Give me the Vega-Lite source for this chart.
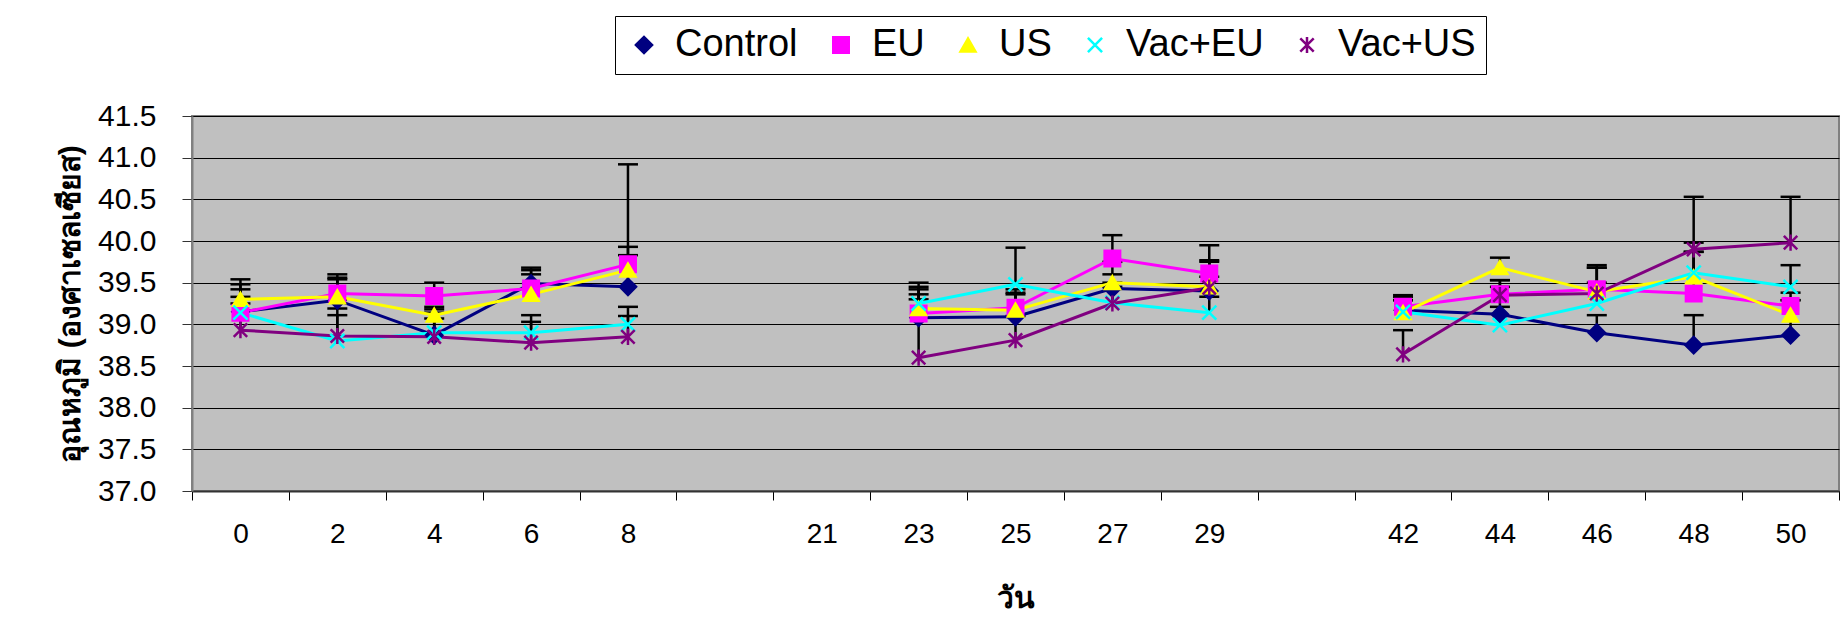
{
  "$schema": "https://vega.github.io/schema/vega-lite/v6.json",
  "autosize": {"type": "none"},
  "padding": {"left": 192, "top": 116, "right": 2, "bottom": 149},
  "width": 1647,
  "height": 375,
  "background": "white",
  "config": {
    "view": {"fill": "#C0C0C0", "stroke": "#808080", "strokeWidth": 2},
    "font": "Liberation Sans"
  },
  "data": {
    "values": [
      {"day": "0", "series": "Control", "mean": 39.15, "upper": 39.42, "phase": 1},
      {"day": "0", "series": "EU", "mean": 39.14, "upper": 39.48, "phase": 1},
      {"day": "0", "series": "US", "mean": 39.30, "upper": 39.54, "phase": 1},
      {"day": "0", "series": "Vac+EU", "mean": 39.14, "upper": 39.33, "phase": 1},
      {"day": "0", "series": "Vac+US", "mean": 38.93, "upper": 39.25, "phase": 1},
      {"day": "2", "series": "Control", "mean": 39.29, "upper": 39.54, "phase": 1},
      {"day": "2", "series": "EU", "mean": 39.37, "upper": 39.60, "phase": 1},
      {"day": "2", "series": "US", "mean": 39.33, "upper": 39.56, "phase": 1},
      {"day": "2", "series": "Vac+EU", "mean": 38.80, "upper": 39.11, "phase": 1},
      {"day": "2", "series": "Vac+US", "mean": 38.86, "upper": 39.19, "phase": 1},
      {"day": "4", "series": "Control", "mean": 38.87, "upper": 39.21, "phase": 1},
      {"day": "4", "series": "EU", "mean": 39.34, "upper": 39.50, "phase": 1},
      {"day": "4", "series": "US", "mean": 39.11, "upper": 39.18, "phase": 1},
      {"day": "4", "series": "Vac+EU", "mean": 38.90, "upper": 39.14, "phase": 1},
      {"day": "4", "series": "Vac+US", "mean": 38.85, "upper": 39.07, "phase": 1},
      {"day": "6", "series": "Control", "mean": 39.49, "upper": 39.68, "phase": 1},
      {"day": "6", "series": "EU", "mean": 39.43, "upper": 39.65, "phase": 1},
      {"day": "6", "series": "US", "mean": 39.36, "upper": 39.60, "phase": 1},
      {"day": "6", "series": "Vac+EU", "mean": 38.90, "upper": 39.11, "phase": 1},
      {"day": "6", "series": "Vac+US", "mean": 38.78, "upper": 39.03, "phase": 1},
      {"day": "8", "series": "Control", "mean": 39.45, "upper": 39.83, "phase": 1},
      {"day": "8", "series": "EU", "mean": 39.72, "upper": 40.92, "phase": 1},
      {"day": "8", "series": "US", "mean": 39.65, "upper": 39.93, "phase": 1},
      {"day": "8", "series": "Vac+EU", "mean": 39.00, "upper": 39.21, "phase": 1},
      {"day": "8", "series": "Vac+US", "mean": 38.85, "upper": 39.10, "phase": 1},
      {"day": "23", "series": "Control", "mean": 39.08, "upper": 39.36, "phase": 2},
      {"day": "23", "series": "EU", "mean": 39.13, "upper": 39.42, "phase": 2},
      {"day": "23", "series": "US", "mean": 39.19, "upper": 39.50, "phase": 2},
      {"day": "23", "series": "Vac+EU", "mean": 39.25, "upper": 39.45, "phase": 2},
      {"day": "23", "series": "Vac+US", "mean": 38.60, "upper": 39.30, "phase": 2},
      {"day": "25", "series": "Control", "mean": 39.09, "upper": 39.36, "phase": 2},
      {"day": "25", "series": "EU", "mean": 39.20, "upper": 39.42, "phase": 2},
      {"day": "25", "series": "US", "mean": 39.17, "upper": 39.38, "phase": 2},
      {"day": "25", "series": "Vac+EU", "mean": 39.48, "upper": 39.92, "phase": 2},
      {"day": "25", "series": "Vac+US", "mean": 38.81, "upper": 39.10, "phase": 2},
      {"day": "27", "series": "Control", "mean": 39.43, "upper": 39.60, "phase": 2},
      {"day": "27", "series": "EU", "mean": 39.79, "upper": 40.07, "phase": 2},
      {"day": "27", "series": "US", "mean": 39.50, "upper": 39.75, "phase": 2},
      {"day": "27", "series": "Vac+EU", "mean": 39.26, "upper": 39.50, "phase": 2},
      {"day": "27", "series": "Vac+US", "mean": 39.25, "upper": 39.45, "phase": 2},
      {"day": "29", "series": "Control", "mean": 39.40, "upper": 39.57, "phase": 2},
      {"day": "29", "series": "EU", "mean": 39.61, "upper": 39.95, "phase": 2},
      {"day": "29", "series": "US", "mean": 39.45, "upper": 39.77, "phase": 2},
      {"day": "29", "series": "Vac+EU", "mean": 39.14, "upper": 39.33, "phase": 2},
      {"day": "29", "series": "Vac+US", "mean": 39.44, "upper": 39.75, "phase": 2},
      {"day": "42", "series": "Control", "mean": 39.17, "upper": 39.33, "phase": 3},
      {"day": "42", "series": "EU", "mean": 39.21, "upper": 39.35, "phase": 3},
      {"day": "42", "series": "US", "mean": 39.14, "upper": 39.29, "phase": 3},
      {"day": "42", "series": "Vac+EU", "mean": 39.15, "upper": 39.29, "phase": 3},
      {"day": "42", "series": "Vac+US", "mean": 38.64, "upper": 38.93, "phase": 3},
      {"day": "44", "series": "Control", "mean": 39.12, "upper": 39.21, "phase": 3},
      {"day": "44", "series": "EU", "mean": 39.36, "upper": 39.53, "phase": 3},
      {"day": "44", "series": "US", "mean": 39.68, "upper": 39.80, "phase": 3},
      {"day": "44", "series": "Vac+EU", "mean": 38.99, "upper": 39.45, "phase": 3},
      {"day": "44", "series": "Vac+US", "mean": 39.35, "upper": 39.53, "phase": 3},
      {"day": "46", "series": "Control", "mean": 38.90, "upper": 39.11, "phase": 3},
      {"day": "46", "series": "EU", "mean": 39.42, "upper": 39.71, "phase": 3},
      {"day": "46", "series": "US", "mean": 39.39, "upper": 39.68, "phase": 3},
      {"day": "46", "series": "Vac+EU", "mean": 39.25, "upper": 39.50, "phase": 3},
      {"day": "46", "series": "Vac+US", "mean": 39.37, "upper": 39.68, "phase": 3},
      {"day": "48", "series": "Control", "mean": 38.75, "upper": 39.11, "phase": 3},
      {"day": "48", "series": "EU", "mean": 39.37, "upper": 39.87, "phase": 3},
      {"day": "48", "series": "US", "mean": 39.57, "upper": 39.87, "phase": 3},
      {"day": "48", "series": "Vac+EU", "mean": 39.62, "upper": 39.98, "phase": 3},
      {"day": "48", "series": "Vac+US", "mean": 39.90, "upper": 40.53, "phase": 3},
      {"day": "50", "series": "Control", "mean": 38.87, "upper": 39.29, "phase": 3},
      {"day": "50", "series": "EU", "mean": 39.22, "upper": 39.38, "phase": 3},
      {"day": "50", "series": "US", "mean": 39.11, "upper": 39.29, "phase": 3},
      {"day": "50", "series": "Vac+EU", "mean": 39.45, "upper": 39.71, "phase": 3},
      {"day": "50", "series": "Vac+US", "mean": 39.98, "upper": 40.53, "phase": 3}
    ]
  },
  "encoding": {
    "x": {
      "field": "day",
      "type": "ordinal",
      "scale": {
        "type": "band",
        "paddingInner": 0,
        "paddingOuter": 0,
        "domain": ["0", "2", "4", "6", "8", " ", "21", "23", "25", "27", "29", "  ", "42", "44", "46", "48", "50"]
      },
      "axis": {
        "title": "วัน",
        "titleFontSize": 30,
        "titleFontWeight": "bold",
        "titleColor": "black",
        "titlePadding": 35,
        "labelAngle": 0,
        "labelFontSize": 28,
        "labelColor": "black",
        "labelPadding": 20,
        "tickBand": "extent",
        "tickSize": 9,
        "tickColor": "black",
        "tickWidth": 1,
        "domainColor": "#333333",
        "domainWidth": 2,
        "grid": false
      }
    },
    "y": {
      "field": "mean",
      "type": "quantitative",
      "scale": {"domain": [37, 41.5], "nice": false, "zero": false},
      "axis": {
        "title": "อุณหภูมิ (องศาเซลเซียส)",
        "titleFontSize": 30,
        "titleFontWeight": "bold",
        "titleColor": "black",
        "titlePadding": 12,
        "values": [37, 37.5, 38, 38.5, 39, 39.5, 40, 40.5, 41, 41.5],
        "format": ".1f",
        "labelFontSize": 30,
        "labelColor": "black",
        "labelPadding": 26,
        "tickSize": 10,
        "tickColor": "#333333",
        "domainColor": "#808080",
        "domainWidth": 2,
        "grid": true,
        "gridColor": "black",
        "gridWidth": 1.2,
        "gridOpacity": 1
      }
    }
  },
  "layer": [
    {
      "mark": {"type": "rule", "color": "black", "strokeWidth": 2.5},
      "encoding": {"y2": {"field": "upper"}}
    },
    {
      "mark": {"type": "tick", "color": "black", "thickness": 2.5, "size": 20, "opacity": 1},
      "encoding": {"y": {"field": "upper", "type": "quantitative"}}
    },
    {
      "mark": {"type": "line", "strokeWidth": 3},
      "encoding": {
        "detail": {"field": "phase"},
        "color": {"field": "series", "type": "nominal"}
      }
    },
    {
      "mark": {"type": "point", "filled": true, "opacity": 1, "strokeWidth": 2.5},
      "encoding": {
        "color": {
          "field": "series",
          "type": "nominal",
          "scale": {
            "domain": ["Control", "EU", "US", "Vac+EU", "Vac+US"],
            "range": ["#000080", "#FF00FF", "#FFFF00", "#00FFFF", "#800080"]
          },
          "legend": {
            "title": null,
            "orient": "none",
            "legendX": 423,
            "legendY": -100,
            "direction": "horizontal",
            "padding": 10,
            "strokeColor": "black",
            "fillColor": "white",
            "labelFont": "Liberation Sans",
            "labelFontSize": 38,
            "labelColor": "black",
            "labelLimit": 400,
            "labelOffset": 12,
            "columnPadding": 24,
            "symbolStrokeWidth": 2.5
          }
        },
        "stroke": {
          "field": "series",
          "type": "nominal",
          "scale": {
            "domain": ["Control", "EU", "US", "Vac+EU", "Vac+US"],
            "range": ["#000080", "#FF00FF", "#FFFF00", "#00FFFF", "#800080"]
          },
          "legend": null
        },
        "shape": {
          "field": "series",
          "type": "nominal",
          "scale": {
            "domain": ["Control", "EU", "US", "Vac+EU", "Vac+US"],
            "range": ["diamond", "square", "triangle-up", "M-1,-1L1,1M-1,1L1,-1", "M-1,-1L1,1M-1,1L1,-1M0,-1.2V1.2"]
          },
          "legend": null
        },
        "size": {
          "field": "series",
          "type": "nominal",
          "scale": {
            "domain": ["Control", "EU", "US", "Vac+EU", "Vac+US"],
            "range": [260, 180, 240, 200, 220]
          },
          "legend": null
        }
      }
    }
  ]
}
